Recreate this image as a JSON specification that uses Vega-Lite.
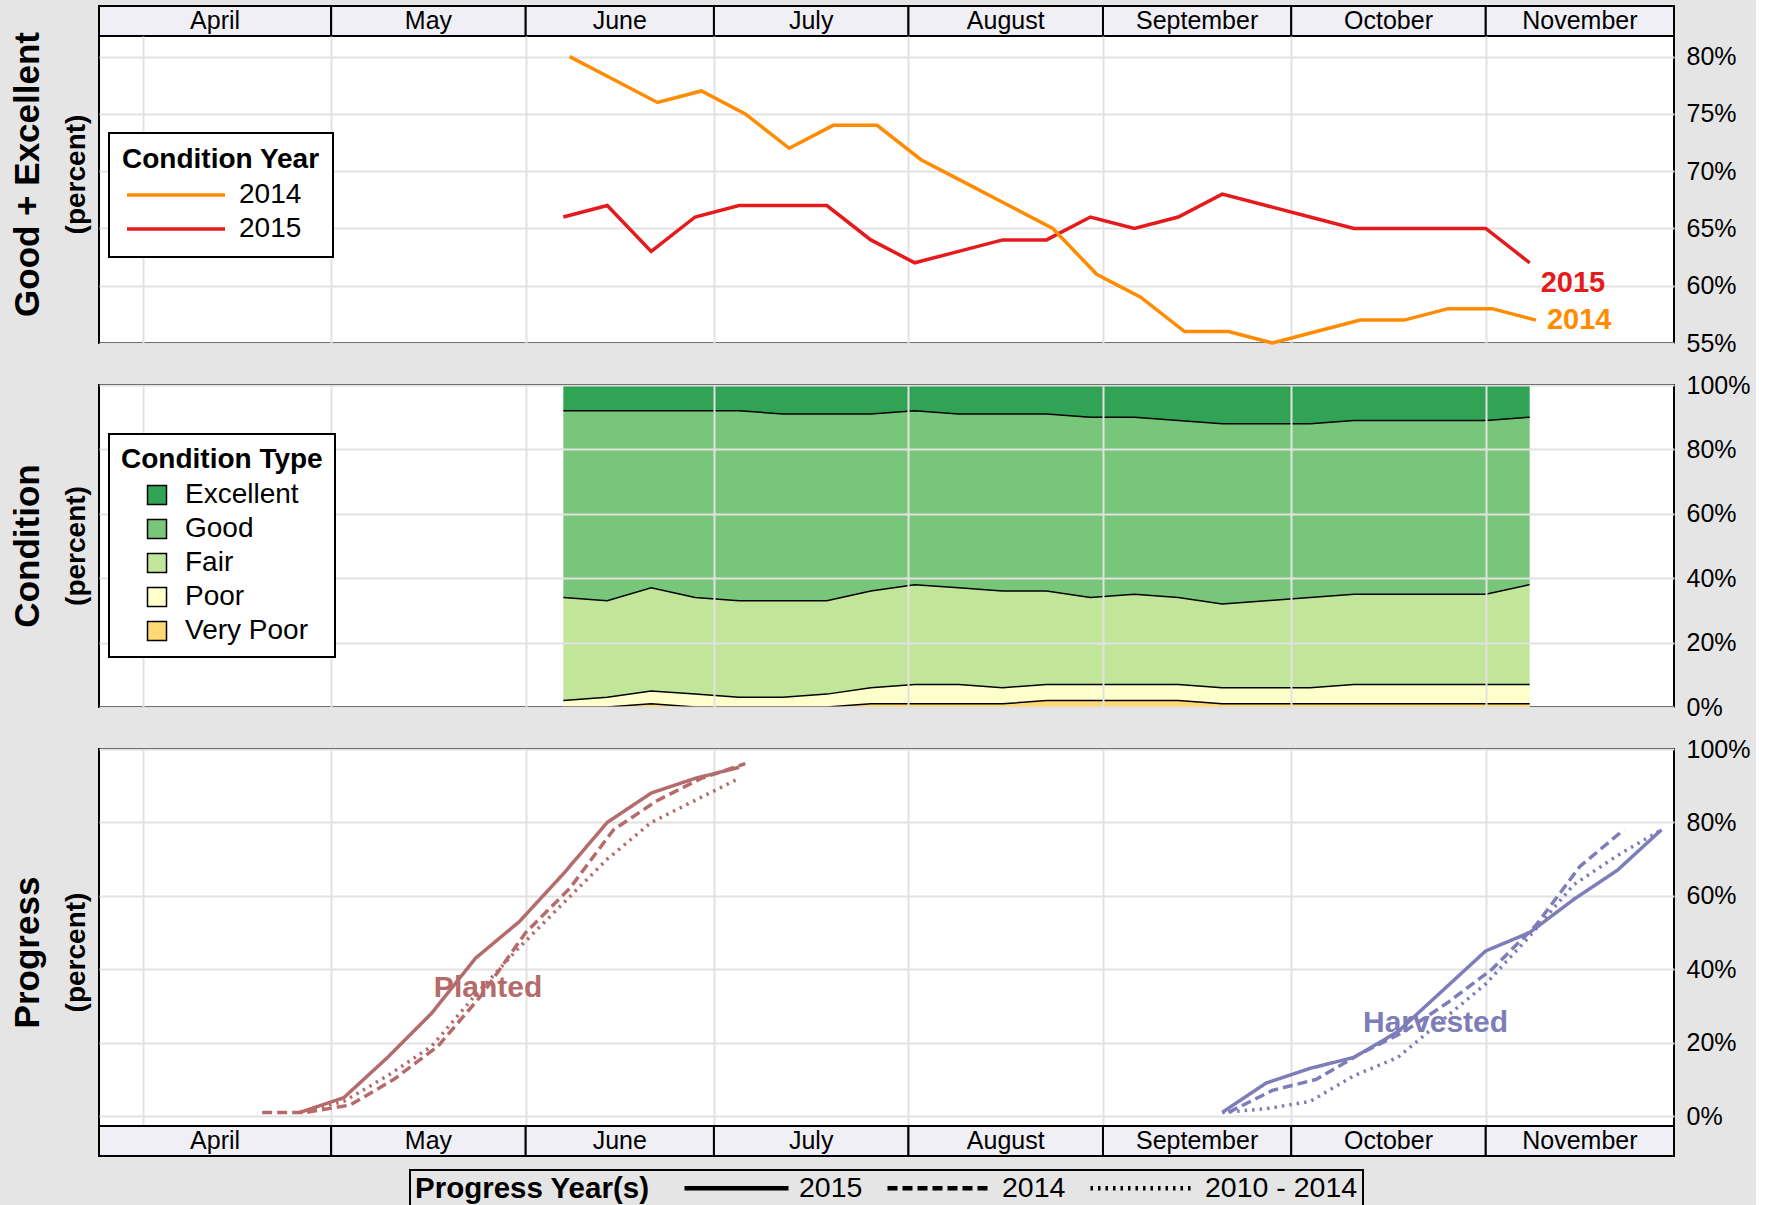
{
  "$schema": "https://vega.github.io/schema/vega-lite/v6.json",
  "background": "#e5e5e5",
  "padding": {"left": 9, "top": 4, "right": 5, "bottom": 0},
  "spacing": 15,
  "resolve": {"scale": {"color": "independent", "strokeDash": "independent", "x": "independent", "y": "independent"}, "legend": {"color": "independent", "strokeDash": "independent"}},
  "config": {
    "font": "Liberation Sans",
    "view": {"stroke": "black", "strokeWidth": 2, "fill": "white"},
    "text": {"font": "Liberation Sans"},
    "axis": {"labelFont": "Liberation Sans", "labelFontSize": 25, "labelColor": "black"},
    "legend": {"titleFont": "Liberation Sans", "labelFont": "Liberation Sans", "titleColor": "black", "labelColor": "black", "titleLimit": 600, "labelLimit": 600, "zindex": 5}
  },
  "datasets": {
    "months": [
      {"month": "April", "start": "2015-03-25", "end": "2015-05-01", "mid": "2015-04-12T12:00:00Z"},
      {"month": "May", "start": "2015-05-01", "end": "2015-06-01", "mid": "2015-05-16T12:00:00Z"},
      {"month": "June", "start": "2015-06-01", "end": "2015-07-01", "mid": "2015-06-16T00:00:00Z"},
      {"month": "July", "start": "2015-07-01", "end": "2015-08-01", "mid": "2015-07-16T12:00:00Z"},
      {"month": "August", "start": "2015-08-01", "end": "2015-09-01", "mid": "2015-08-16T12:00:00Z"},
      {"month": "September", "start": "2015-09-01", "end": "2015-10-01", "mid": "2015-09-16T00:00:00Z"},
      {"month": "October", "start": "2015-10-01", "end": "2015-11-01", "mid": "2015-10-16T12:00:00Z"},
      {"month": "November", "start": "2015-11-01", "end": "2015-12-01", "mid": "2015-11-16T00:00:00Z"}
    ],
    "cond": [
      {"year": "2015", "date": "2015-06-07", "pct": 66},
      {"year": "2015", "date": "2015-06-14", "pct": 67},
      {"year": "2015", "date": "2015-06-21", "pct": 63},
      {"year": "2015", "date": "2015-06-28", "pct": 66},
      {"year": "2015", "date": "2015-07-05", "pct": 67},
      {"year": "2015", "date": "2015-07-12", "pct": 67},
      {"year": "2015", "date": "2015-07-19", "pct": 67},
      {"year": "2015", "date": "2015-07-26", "pct": 64},
      {"year": "2015", "date": "2015-08-02", "pct": 62},
      {"year": "2015", "date": "2015-08-09", "pct": 63},
      {"year": "2015", "date": "2015-08-16", "pct": 64},
      {"year": "2015", "date": "2015-08-23", "pct": 64},
      {"year": "2015", "date": "2015-08-30", "pct": 66},
      {"year": "2015", "date": "2015-09-06", "pct": 65},
      {"year": "2015", "date": "2015-09-13", "pct": 66},
      {"year": "2015", "date": "2015-09-20", "pct": 68},
      {"year": "2015", "date": "2015-09-27", "pct": 67},
      {"year": "2015", "date": "2015-10-04", "pct": 66},
      {"year": "2015", "date": "2015-10-11", "pct": 65},
      {"year": "2015", "date": "2015-10-18", "pct": 65},
      {"year": "2015", "date": "2015-10-25", "pct": 65},
      {"year": "2015", "date": "2015-11-01", "pct": 65},
      {"year": "2015", "date": "2015-11-08", "pct": 62},
      {"year": "2014", "date": "2015-06-08", "pct": 80},
      {"year": "2014", "date": "2015-06-15", "pct": 78},
      {"year": "2014", "date": "2015-06-22", "pct": 76},
      {"year": "2014", "date": "2015-06-29", "pct": 77},
      {"year": "2014", "date": "2015-07-06", "pct": 75},
      {"year": "2014", "date": "2015-07-13", "pct": 72},
      {"year": "2014", "date": "2015-07-20", "pct": 74},
      {"year": "2014", "date": "2015-07-27", "pct": 74},
      {"year": "2014", "date": "2015-08-03", "pct": 71},
      {"year": "2014", "date": "2015-08-10", "pct": 69},
      {"year": "2014", "date": "2015-08-17", "pct": 67},
      {"year": "2014", "date": "2015-08-24", "pct": 65},
      {"year": "2014", "date": "2015-08-31", "pct": 61},
      {"year": "2014", "date": "2015-09-07", "pct": 59},
      {"year": "2014", "date": "2015-09-14", "pct": 56},
      {"year": "2014", "date": "2015-09-21", "pct": 56},
      {"year": "2014", "date": "2015-09-28", "pct": 55},
      {"year": "2014", "date": "2015-10-05", "pct": 56},
      {"year": "2014", "date": "2015-10-12", "pct": 57},
      {"year": "2014", "date": "2015-10-19", "pct": 57},
      {"year": "2014", "date": "2015-10-26", "pct": 58},
      {"year": "2014", "date": "2015-11-02", "pct": 58},
      {"year": "2014", "date": "2015-11-09", "pct": 57}
    ],
    "ctype": [
      {"date": "2015-06-07", "cond": "Very Poor", "pct": 0}, {"date": "2015-06-07", "cond": "Poor", "pct": 2}, {"date": "2015-06-07", "cond": "Fair", "pct": 32}, {"date": "2015-06-07", "cond": "Good", "pct": 58}, {"date": "2015-06-07", "cond": "Excellent", "pct": 8},
      {"date": "2015-06-14", "cond": "Very Poor", "pct": 0}, {"date": "2015-06-14", "cond": "Poor", "pct": 3}, {"date": "2015-06-14", "cond": "Fair", "pct": 30}, {"date": "2015-06-14", "cond": "Good", "pct": 59}, {"date": "2015-06-14", "cond": "Excellent", "pct": 8},
      {"date": "2015-06-21", "cond": "Very Poor", "pct": 1}, {"date": "2015-06-21", "cond": "Poor", "pct": 4}, {"date": "2015-06-21", "cond": "Fair", "pct": 32}, {"date": "2015-06-21", "cond": "Good", "pct": 55}, {"date": "2015-06-21", "cond": "Excellent", "pct": 8},
      {"date": "2015-06-28", "cond": "Very Poor", "pct": 0}, {"date": "2015-06-28", "cond": "Poor", "pct": 4}, {"date": "2015-06-28", "cond": "Fair", "pct": 30}, {"date": "2015-06-28", "cond": "Good", "pct": 58}, {"date": "2015-06-28", "cond": "Excellent", "pct": 8},
      {"date": "2015-07-05", "cond": "Very Poor", "pct": 0}, {"date": "2015-07-05", "cond": "Poor", "pct": 3}, {"date": "2015-07-05", "cond": "Fair", "pct": 30}, {"date": "2015-07-05", "cond": "Good", "pct": 59}, {"date": "2015-07-05", "cond": "Excellent", "pct": 8},
      {"date": "2015-07-12", "cond": "Very Poor", "pct": 0}, {"date": "2015-07-12", "cond": "Poor", "pct": 3}, {"date": "2015-07-12", "cond": "Fair", "pct": 30}, {"date": "2015-07-12", "cond": "Good", "pct": 58}, {"date": "2015-07-12", "cond": "Excellent", "pct": 9},
      {"date": "2015-07-19", "cond": "Very Poor", "pct": 0}, {"date": "2015-07-19", "cond": "Poor", "pct": 4}, {"date": "2015-07-19", "cond": "Fair", "pct": 29}, {"date": "2015-07-19", "cond": "Good", "pct": 58}, {"date": "2015-07-19", "cond": "Excellent", "pct": 9},
      {"date": "2015-07-26", "cond": "Very Poor", "pct": 1}, {"date": "2015-07-26", "cond": "Poor", "pct": 5}, {"date": "2015-07-26", "cond": "Fair", "pct": 30}, {"date": "2015-07-26", "cond": "Good", "pct": 55}, {"date": "2015-07-26", "cond": "Excellent", "pct": 9},
      {"date": "2015-08-02", "cond": "Very Poor", "pct": 1}, {"date": "2015-08-02", "cond": "Poor", "pct": 6}, {"date": "2015-08-02", "cond": "Fair", "pct": 31}, {"date": "2015-08-02", "cond": "Good", "pct": 54}, {"date": "2015-08-02", "cond": "Excellent", "pct": 8},
      {"date": "2015-08-09", "cond": "Very Poor", "pct": 1}, {"date": "2015-08-09", "cond": "Poor", "pct": 6}, {"date": "2015-08-09", "cond": "Fair", "pct": 30}, {"date": "2015-08-09", "cond": "Good", "pct": 54}, {"date": "2015-08-09", "cond": "Excellent", "pct": 9},
      {"date": "2015-08-16", "cond": "Very Poor", "pct": 1}, {"date": "2015-08-16", "cond": "Poor", "pct": 5}, {"date": "2015-08-16", "cond": "Fair", "pct": 30}, {"date": "2015-08-16", "cond": "Good", "pct": 55}, {"date": "2015-08-16", "cond": "Excellent", "pct": 9},
      {"date": "2015-08-23", "cond": "Very Poor", "pct": 2}, {"date": "2015-08-23", "cond": "Poor", "pct": 5}, {"date": "2015-08-23", "cond": "Fair", "pct": 29}, {"date": "2015-08-23", "cond": "Good", "pct": 55}, {"date": "2015-08-23", "cond": "Excellent", "pct": 9},
      {"date": "2015-08-30", "cond": "Very Poor", "pct": 2}, {"date": "2015-08-30", "cond": "Poor", "pct": 5}, {"date": "2015-08-30", "cond": "Fair", "pct": 27}, {"date": "2015-08-30", "cond": "Good", "pct": 56}, {"date": "2015-08-30", "cond": "Excellent", "pct": 10},
      {"date": "2015-09-06", "cond": "Very Poor", "pct": 2}, {"date": "2015-09-06", "cond": "Poor", "pct": 5}, {"date": "2015-09-06", "cond": "Fair", "pct": 28}, {"date": "2015-09-06", "cond": "Good", "pct": 55}, {"date": "2015-09-06", "cond": "Excellent", "pct": 10},
      {"date": "2015-09-13", "cond": "Very Poor", "pct": 2}, {"date": "2015-09-13", "cond": "Poor", "pct": 5}, {"date": "2015-09-13", "cond": "Fair", "pct": 27}, {"date": "2015-09-13", "cond": "Good", "pct": 55}, {"date": "2015-09-13", "cond": "Excellent", "pct": 11},
      {"date": "2015-09-20", "cond": "Very Poor", "pct": 1}, {"date": "2015-09-20", "cond": "Poor", "pct": 5}, {"date": "2015-09-20", "cond": "Fair", "pct": 26}, {"date": "2015-09-20", "cond": "Good", "pct": 56}, {"date": "2015-09-20", "cond": "Excellent", "pct": 12},
      {"date": "2015-09-27", "cond": "Very Poor", "pct": 1}, {"date": "2015-09-27", "cond": "Poor", "pct": 5}, {"date": "2015-09-27", "cond": "Fair", "pct": 27}, {"date": "2015-09-27", "cond": "Good", "pct": 55}, {"date": "2015-09-27", "cond": "Excellent", "pct": 12},
      {"date": "2015-10-04", "cond": "Very Poor", "pct": 1}, {"date": "2015-10-04", "cond": "Poor", "pct": 5}, {"date": "2015-10-04", "cond": "Fair", "pct": 28}, {"date": "2015-10-04", "cond": "Good", "pct": 54}, {"date": "2015-10-04", "cond": "Excellent", "pct": 12},
      {"date": "2015-10-11", "cond": "Very Poor", "pct": 1}, {"date": "2015-10-11", "cond": "Poor", "pct": 6}, {"date": "2015-10-11", "cond": "Fair", "pct": 28}, {"date": "2015-10-11", "cond": "Good", "pct": 54}, {"date": "2015-10-11", "cond": "Excellent", "pct": 11},
      {"date": "2015-10-18", "cond": "Very Poor", "pct": 1}, {"date": "2015-10-18", "cond": "Poor", "pct": 6}, {"date": "2015-10-18", "cond": "Fair", "pct": 28}, {"date": "2015-10-18", "cond": "Good", "pct": 54}, {"date": "2015-10-18", "cond": "Excellent", "pct": 11},
      {"date": "2015-10-25", "cond": "Very Poor", "pct": 1}, {"date": "2015-10-25", "cond": "Poor", "pct": 6}, {"date": "2015-10-25", "cond": "Fair", "pct": 28}, {"date": "2015-10-25", "cond": "Good", "pct": 54}, {"date": "2015-10-25", "cond": "Excellent", "pct": 11},
      {"date": "2015-11-01", "cond": "Very Poor", "pct": 1}, {"date": "2015-11-01", "cond": "Poor", "pct": 6}, {"date": "2015-11-01", "cond": "Fair", "pct": 28}, {"date": "2015-11-01", "cond": "Good", "pct": 54}, {"date": "2015-11-01", "cond": "Excellent", "pct": 11},
      {"date": "2015-11-08", "cond": "Very Poor", "pct": 1}, {"date": "2015-11-08", "cond": "Poor", "pct": 6}, {"date": "2015-11-08", "cond": "Fair", "pct": 31}, {"date": "2015-11-08", "cond": "Good", "pct": 52}, {"date": "2015-11-08", "cond": "Excellent", "pct": 10}
    ],
    "prog": [
      {"activity": "Planted", "period": "2015", "date": "2015-04-26", "pct": 1},
      {"activity": "Planted", "period": "2015", "date": "2015-05-03", "pct": 5},
      {"activity": "Planted", "period": "2015", "date": "2015-05-10", "pct": 16},
      {"activity": "Planted", "period": "2015", "date": "2015-05-17", "pct": 28},
      {"activity": "Planted", "period": "2015", "date": "2015-05-24", "pct": 43},
      {"activity": "Planted", "period": "2015", "date": "2015-05-31", "pct": 53},
      {"activity": "Planted", "period": "2015", "date": "2015-06-07", "pct": 66},
      {"activity": "Planted", "period": "2015", "date": "2015-06-14", "pct": 80},
      {"activity": "Planted", "period": "2015", "date": "2015-06-21", "pct": 88},
      {"activity": "Planted", "period": "2015", "date": "2015-06-28", "pct": 92},
      {"activity": "Planted", "period": "2015", "date": "2015-07-05", "pct": 95},
      {"activity": "Planted", "period": "2014", "date": "2015-04-20", "pct": 1},
      {"activity": "Planted", "period": "2014", "date": "2015-04-27", "pct": 1},
      {"activity": "Planted", "period": "2014", "date": "2015-05-04", "pct": 3},
      {"activity": "Planted", "period": "2014", "date": "2015-05-11", "pct": 10},
      {"activity": "Planted", "period": "2014", "date": "2015-05-18", "pct": 19},
      {"activity": "Planted", "period": "2014", "date": "2015-05-25", "pct": 33},
      {"activity": "Planted", "period": "2014", "date": "2015-06-01", "pct": 50},
      {"activity": "Planted", "period": "2014", "date": "2015-06-08", "pct": 62},
      {"activity": "Planted", "period": "2014", "date": "2015-06-15", "pct": 78},
      {"activity": "Planted", "period": "2014", "date": "2015-06-22", "pct": 86},
      {"activity": "Planted", "period": "2014", "date": "2015-06-29", "pct": 92},
      {"activity": "Planted", "period": "2014", "date": "2015-07-06", "pct": 96},
      {"activity": "Planted", "period": "2010 - 2014", "date": "2015-04-26", "pct": 1},
      {"activity": "Planted", "period": "2010 - 2014", "date": "2015-05-03", "pct": 4},
      {"activity": "Planted", "period": "2010 - 2014", "date": "2015-05-10", "pct": 11},
      {"activity": "Planted", "period": "2010 - 2014", "date": "2015-05-17", "pct": 19},
      {"activity": "Planted", "period": "2010 - 2014", "date": "2015-05-24", "pct": 33},
      {"activity": "Planted", "period": "2010 - 2014", "date": "2015-05-31", "pct": 46},
      {"activity": "Planted", "period": "2010 - 2014", "date": "2015-06-07", "pct": 58},
      {"activity": "Planted", "period": "2010 - 2014", "date": "2015-06-14", "pct": 70},
      {"activity": "Planted", "period": "2010 - 2014", "date": "2015-06-21", "pct": 80},
      {"activity": "Planted", "period": "2010 - 2014", "date": "2015-06-28", "pct": 86},
      {"activity": "Planted", "period": "2010 - 2014", "date": "2015-07-05", "pct": 92},
      {"activity": "Harvested", "period": "2015", "date": "2015-09-20", "pct": 1},
      {"activity": "Harvested", "period": "2015", "date": "2015-09-27", "pct": 9},
      {"activity": "Harvested", "period": "2015", "date": "2015-10-04", "pct": 13},
      {"activity": "Harvested", "period": "2015", "date": "2015-10-11", "pct": 16},
      {"activity": "Harvested", "period": "2015", "date": "2015-10-18", "pct": 23},
      {"activity": "Harvested", "period": "2015", "date": "2015-10-25", "pct": 34},
      {"activity": "Harvested", "period": "2015", "date": "2015-11-01", "pct": 45},
      {"activity": "Harvested", "period": "2015", "date": "2015-11-08", "pct": 50},
      {"activity": "Harvested", "period": "2015", "date": "2015-11-15", "pct": 59},
      {"activity": "Harvested", "period": "2015", "date": "2015-11-22", "pct": 67},
      {"activity": "Harvested", "period": "2015", "date": "2015-11-29", "pct": 78},
      {"activity": "Harvested", "period": "2014", "date": "2015-09-21", "pct": 1},
      {"activity": "Harvested", "period": "2014", "date": "2015-09-28", "pct": 7},
      {"activity": "Harvested", "period": "2014", "date": "2015-10-05", "pct": 10},
      {"activity": "Harvested", "period": "2014", "date": "2015-10-12", "pct": 17},
      {"activity": "Harvested", "period": "2014", "date": "2015-10-19", "pct": 23},
      {"activity": "Harvested", "period": "2014", "date": "2015-10-26", "pct": 31},
      {"activity": "Harvested", "period": "2014", "date": "2015-11-02", "pct": 40},
      {"activity": "Harvested", "period": "2014", "date": "2015-11-09", "pct": 52},
      {"activity": "Harvested", "period": "2014", "date": "2015-11-16", "pct": 68},
      {"activity": "Harvested", "period": "2014", "date": "2015-11-23", "pct": 78},
      {"activity": "Harvested", "period": "2010 - 2014", "date": "2015-09-20", "pct": 1},
      {"activity": "Harvested", "period": "2010 - 2014", "date": "2015-09-27", "pct": 2},
      {"activity": "Harvested", "period": "2010 - 2014", "date": "2015-10-04", "pct": 4},
      {"activity": "Harvested", "period": "2010 - 2014", "date": "2015-10-11", "pct": 11},
      {"activity": "Harvested", "period": "2010 - 2014", "date": "2015-10-18", "pct": 16},
      {"activity": "Harvested", "period": "2010 - 2014", "date": "2015-10-25", "pct": 26},
      {"activity": "Harvested", "period": "2010 - 2014", "date": "2015-11-01", "pct": 36},
      {"activity": "Harvested", "period": "2010 - 2014", "date": "2015-11-08", "pct": 49},
      {"activity": "Harvested", "period": "2010 - 2014", "date": "2015-11-15", "pct": 63},
      {"activity": "Harvested", "period": "2010 - 2014", "date": "2015-11-22", "pct": 71},
      {"activity": "Harvested", "period": "2010 - 2014", "date": "2015-11-29", "pct": 78}
    ]
  },
  "vconcat": [
    {
      "spacing": 0,
      "bounds": "flush",
      "vconcat": [
        {
          "width": 1575, "height": 30,
          "data": {"name": "months"},
          "layer": [
            {"mark": {"type": "rect", "fill": "#efeff5", "stroke": "black", "strokeWidth": 2},
             "encoding": {"x": {"field": "start", "type": "temporal", "scale": {"type": "utc", "domain": [{"year": 2015, "month": 3, "date": 25, "utc": true}, {"year": 2015, "month": 12, "date": 1, "utc": true}]}, "axis": null}, "x2": {"field": "end"}}},
            {"mark": {"type": "text", "fontSize": 25, "color": "black", "baseline": "middle", "align": "center"},
             "encoding": {"x": {"field": "mid", "type": "temporal"}, "text": {"field": "month"}}}
          ]
        },
        {
          "title": {"text": "Good + Excellent", "subtitle": "(percent)", "orient": "left", "anchor": "middle", "frame": "group", "dx": 15, "font": "Liberation Sans", "fontSize": 35, "fontWeight": "bold", "color": "black", "subtitleFont": "Liberation Sans", "subtitleFontSize": 28, "subtitleFontWeight": "bold", "subtitleColor": "black", "subtitlePadding": 17, "offset": 8},
          "width": 1575, "height": 307,
          "layer": [
            {"data": {"name": "cond"},
             "mark": {"type": "line", "strokeWidth": 3.5},
             "encoding": {
               "x": {"field": "date", "type": "temporal", "scale": {"type": "utc", "domain": [{"year": 2015, "month": 3, "date": 25, "utc": true}, {"year": 2015, "month": 12, "date": 1, "utc": true}]},
                     "axis": {"values": [{"year": 2015, "month": 4, "date": 1, "utc": true}, {"year": 2015, "month": 5, "date": 1, "utc": true}, {"year": 2015, "month": 6, "date": 1, "utc": true}, {"year": 2015, "month": 7, "date": 1, "utc": true}, {"year": 2015, "month": 8, "date": 1, "utc": true}, {"year": 2015, "month": 9, "date": 1, "utc": true}, {"year": 2015, "month": 10, "date": 1, "utc": true}, {"year": 2015, "month": 11, "date": 1, "utc": true}], "labels": false, "ticks": false, "domain": false, "title": null, "grid": true, "gridColor": "#e2e2e2", "gridWidth": 2}},
               "y": {"field": "pct", "type": "quantitative", "scale": {"domain": [55, 81.8], "nice": false, "zero": false},
                     "axis": {"orient": "right", "values": [55, 60, 65, 70, 75, 80], "labelExpr": "datum.value + '%'", "title": null, "grid": true, "gridColor": "#e2e2e2", "gridWidth": 2, "ticks": false, "domain": false, "labelPadding": 12, "labelFlush": false, "labelOverlap": false, "labelBaseline": "middle"}},
               "color": {"field": "year", "type": "nominal", "scale": {"domain": ["2014", "2015"], "range": ["#ff8c00", "#e41a1c"]},
                         "legend": {"title": "Condition Year", "orient": "none", "legendX": 10, "legendY": 127, "symbolType": "stroke", "symbolSize": 9604, "symbolStrokeWidth": 3.5, "clipHeight": 30, "labelFontSize": 28, "titleFontSize": 28, "titleFontWeight": "bold", "strokeColor": "black", "fillColor": "white", "padding": 13, "symbolOffset": 3, "rowPadding": 4, "titlePadding": 6, "labelOffset": 12, "zindex": 5, "encode": {"legend": {"update": {"strokeWidth": {"value": 2}}}}}}
             }},
            {"data": {"values": [{"year": "2015", "date": "2015-11-08", "pct": 62}]},
             "mark": {"type": "text", "align": "left", "baseline": "middle", "dx": 11, "dy": 20, "fontSize": 29, "fontWeight": "bold", "color": "#e41a1c"},
             "encoding": {"x": {"field": "date", "type": "temporal"}, "y": {"field": "pct", "type": "quantitative"}, "text": {"field": "year"}}},
            {"data": {"values": [{"year": "2014", "date": "2015-11-09", "pct": 57}]},
             "mark": {"type": "text", "align": "left", "baseline": "middle", "dx": 11, "dy": 0, "fontSize": 29, "fontWeight": "bold", "color": "#ff8c00"},
             "encoding": {"x": {"field": "date", "type": "temporal"}, "y": {"field": "pct", "type": "quantitative"}, "text": {"field": "year"}}}
          ]
        }
      ]
    },
    {
      "title": {"text": "Condition", "subtitle": "(percent)", "orient": "left", "anchor": "middle", "frame": "group", "font": "Liberation Sans", "fontSize": 35, "fontWeight": "bold", "color": "black", "subtitleFont": "Liberation Sans", "subtitleFontSize": 28, "subtitleFontWeight": "bold", "subtitleColor": "black", "subtitlePadding": 17, "offset": 8},
      "width": 1575, "height": 322,
      "data": {"name": "ctype"},
      "transform": [
        {"calculate": "indexof(['Very Poor','Poor','Fair','Good','Excellent'], datum.cond)", "as": "rank"},
        {"stack": "pct", "groupby": ["date"], "sort": [{"field": "rank", "order": "ascending"}], "as": ["lo", "hi"]}
      ],
      "layer": [
        {"mark": {"type": "area"},
         "encoding": {
           "x": {"field": "date", "type": "temporal", "scale": {"type": "utc", "domain": [{"year": 2015, "month": 3, "date": 25, "utc": true}, {"year": 2015, "month": 12, "date": 1, "utc": true}]},
                 "axis": {"values": [{"year": 2015, "month": 4, "date": 1, "utc": true}, {"year": 2015, "month": 5, "date": 1, "utc": true}, {"year": 2015, "month": 6, "date": 1, "utc": true}, {"year": 2015, "month": 7, "date": 1, "utc": true}, {"year": 2015, "month": 8, "date": 1, "utc": true}, {"year": 2015, "month": 9, "date": 1, "utc": true}, {"year": 2015, "month": 10, "date": 1, "utc": true}, {"year": 2015, "month": 11, "date": 1, "utc": true}], "labels": false, "ticks": false, "domain": false, "title": null, "grid": true, "gridColor": "#e2e2e2", "gridWidth": 2, "zindex": 1}},
           "y": {"field": "hi", "type": "quantitative", "scale": {"domain": [0, 100], "nice": false},
                 "axis": {"orient": "right", "values": [0, 20, 40, 60, 80, 100], "labelExpr": "datum.value + '%'", "title": null, "grid": true, "gridColor": "#e2e2e2", "gridWidth": 2, "ticks": false, "domain": false, "labelPadding": 12, "labelFlush": false, "labelOverlap": false, "labelBaseline": "middle", "zindex": 1}},
           "y2": {"field": "lo"},
           "color": {"field": "cond", "type": "nominal", "scale": {"domain": ["Excellent", "Good", "Fair", "Poor", "Very Poor"], "range": ["#31a354", "#78c679", "#c2e699", "#ffffcc", "#fed976"]},
                     "legend": {"title": "Condition Type", "orient": "none", "legendX": 10, "legendY": 49, "symbolType": "square", "symbolSize": 361, "labelFontSize": 28, "titleFontSize": 28, "titleFontWeight": "bold", "strokeColor": "black", "fillColor": "white", "padding": 12, "symbolOffset": 22, "rowPadding": 6, "titlePadding": 7, "labelOffset": 14, "zindex": 5,
                                "encode": {"legend": {"update": {"strokeWidth": {"value": 2}}}, "symbols": {"update": {"stroke": {"value": "black"}, "strokeWidth": {"value": 1.5}, "opacity": {"value": 1}, "fillOpacity": {"value": 1}}}}}}
         }},
        {"mark": {"type": "line", "color": "black", "strokeWidth": 1.5},
         "encoding": {
           "x": {"field": "date", "type": "temporal"},
           "y": {"field": "hi", "type": "quantitative"},
           "detail": {"field": "cond"}
         }}
      ]
    },
    {
      "spacing": 0,
      "bounds": "flush",
      "vconcat": [
        {
          "title": {"text": "Progress", "subtitle": "(percent)", "orient": "left", "anchor": "middle", "frame": "group", "dx": -15, "font": "Liberation Sans", "fontSize": 35, "fontWeight": "bold", "color": "black", "subtitleFont": "Liberation Sans", "subtitleFontSize": 28, "subtitleFontWeight": "bold", "subtitleColor": "black", "subtitlePadding": 17, "offset": 8},
          "width": 1575, "height": 377,
          "layer": [
            {"data": {"name": "prog"},
             "mark": {"type": "line", "strokeWidth": 3.5},
             "encoding": {
               "x": {"field": "date", "type": "temporal", "scale": {"type": "utc", "domain": [{"year": 2015, "month": 3, "date": 25, "utc": true}, {"year": 2015, "month": 12, "date": 1, "utc": true}]},
                     "axis": {"values": [{"year": 2015, "month": 4, "date": 1, "utc": true}, {"year": 2015, "month": 5, "date": 1, "utc": true}, {"year": 2015, "month": 6, "date": 1, "utc": true}, {"year": 2015, "month": 7, "date": 1, "utc": true}, {"year": 2015, "month": 8, "date": 1, "utc": true}, {"year": 2015, "month": 9, "date": 1, "utc": true}, {"year": 2015, "month": 10, "date": 1, "utc": true}, {"year": 2015, "month": 11, "date": 1, "utc": true}], "labels": false, "ticks": false, "domain": false, "title": null, "grid": true, "gridColor": "#e2e2e2", "gridWidth": 2}},
               "y": {"field": "pct", "type": "quantitative", "scale": {"domain": [-2.7, 100], "nice": false, "zero": false},
                     "axis": {"orient": "right", "values": [0, 20, 40, 60, 80, 100], "labelExpr": "datum.value + '%'", "title": null, "grid": true, "gridColor": "#e2e2e2", "gridWidth": 2, "ticks": false, "domain": false, "labelPadding": 12, "labelFlush": false, "labelOverlap": false, "labelBaseline": "middle"}},
               "color": {"field": "activity", "type": "nominal", "scale": {"domain": ["Planted", "Harvested"], "range": ["#b56b6b", "#7d7db9"]}, "legend": null},
               "strokeDash": {"field": "period", "type": "nominal", "scale": {"domain": ["2015", "2014", "2010 - 2014"], "range": [[1, 0], [10, 5], [2.5, 5]]},
                              "legend": {"title": "Progress Year(s)", "orient": "none", "legendX": 311, "legendY": 421, "direction": "horizontal", "titleOrient": "left", "symbolType": "stroke", "symbolSize": 10816, "symbolStrokeWidth": 4.5, "symbolStrokeColor": "black", "clipHeight": 26, "labelFontSize": 28.5, "titleFontSize": 29.5, "titleFontWeight": "bold", "strokeColor": "black", "padding": 5, "columnPadding": 22, "titlePadding": 32, "labelOffset": 8, "zindex": 5,
                                         "encode": {"legend": {"update": {"strokeWidth": {"value": 2}}}, "symbols": {"update": {"stroke": {"value": "black"}, "opacity": {"value": 1}}}}}}
             }},
            {"data": {"values": [{"activity": "Planted", "date": "2015-05-26", "pct": 35}, {"activity": "Harvested", "date": "2015-10-24", "pct": 25.3}]},
             "mark": {"type": "text", "align": "center", "baseline": "middle", "fontSize": 30, "fontWeight": "bold"},
             "encoding": {"x": {"field": "date", "type": "temporal"}, "y": {"field": "pct", "type": "quantitative"}, "text": {"field": "activity"}, "color": {"field": "activity", "type": "nominal", "legend": null}}}
          ]
        },
        {
          "width": 1575, "height": 30,
          "data": {"name": "months"},
          "layer": [
            {"mark": {"type": "rect", "fill": "#efeff5", "stroke": "black", "strokeWidth": 2},
             "encoding": {"x": {"field": "start", "type": "temporal", "scale": {"type": "utc", "domain": [{"year": 2015, "month": 3, "date": 25, "utc": true}, {"year": 2015, "month": 12, "date": 1, "utc": true}]}, "axis": null}, "x2": {"field": "end"}}},
            {"mark": {"type": "text", "fontSize": 25, "color": "black", "baseline": "middle", "align": "center"},
             "encoding": {"x": {"field": "mid", "type": "temporal"}, "text": {"field": "month"}}}
          ]
        }
      ]
    }
  ]
}
